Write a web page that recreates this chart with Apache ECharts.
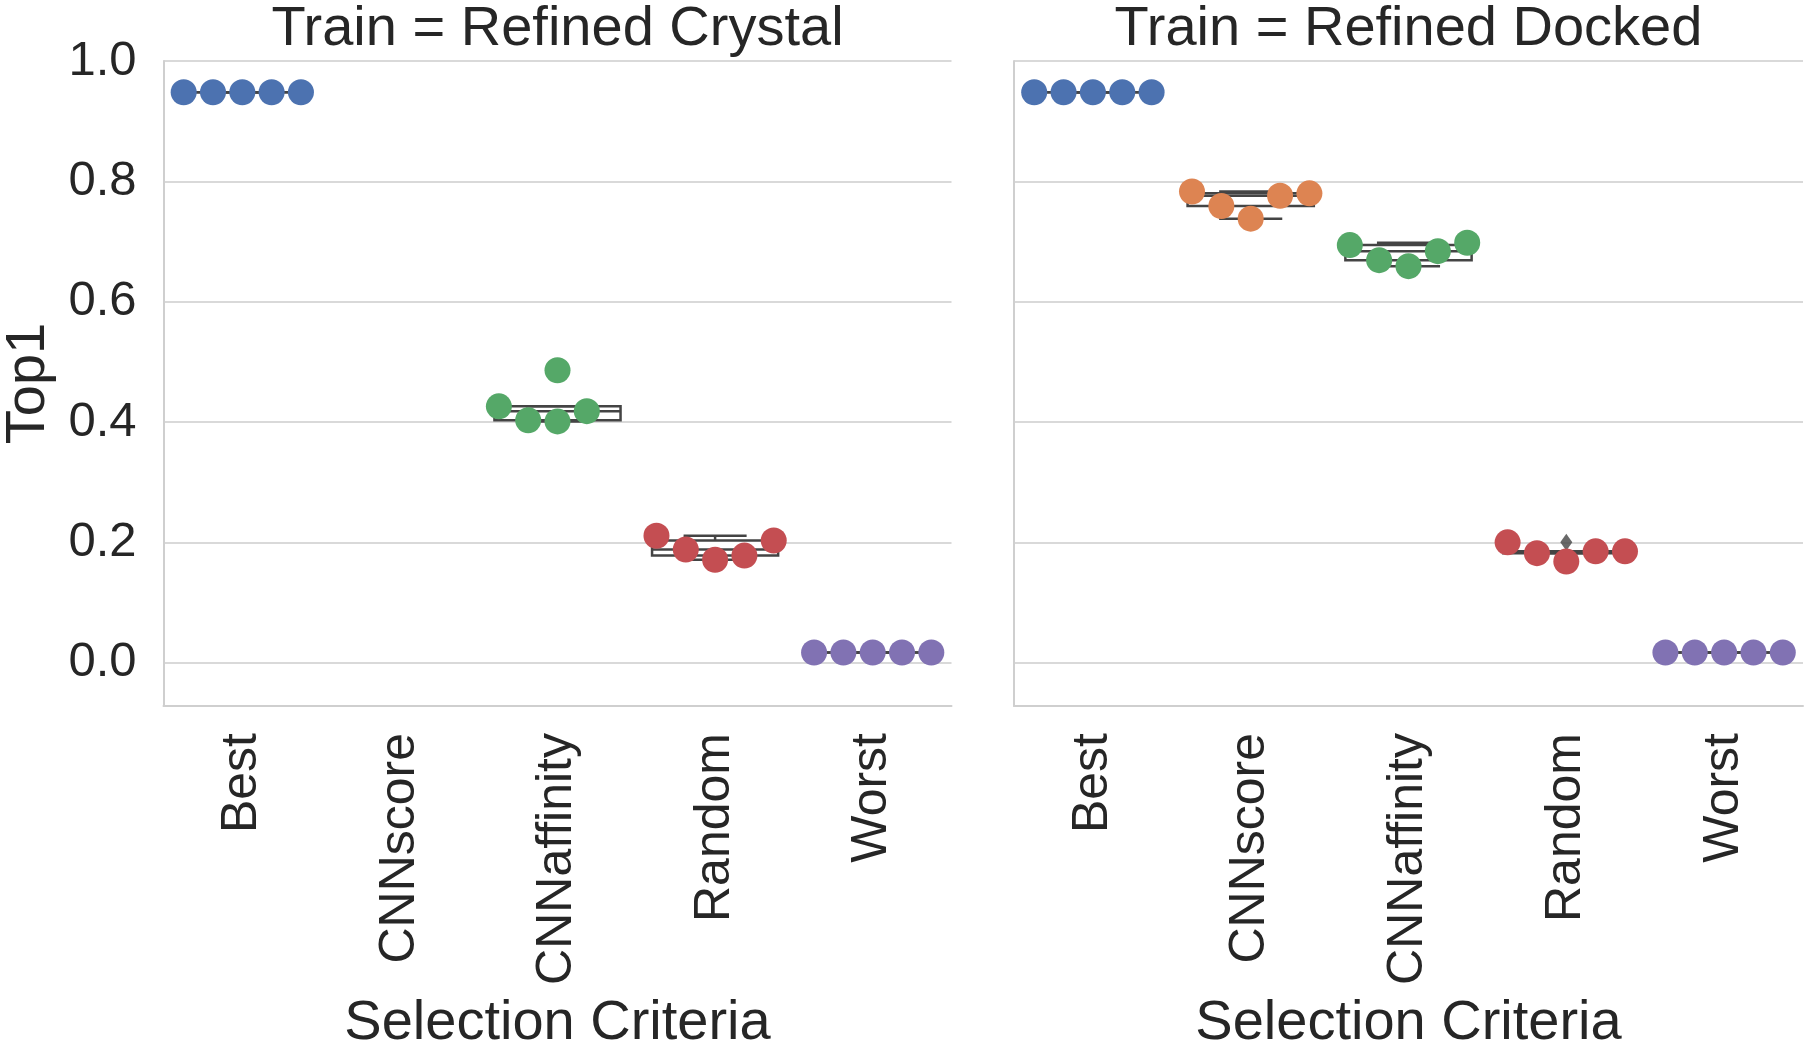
<!DOCTYPE html>
<html>
<head>
<meta charset="utf-8">
<script src="https://cdn.jsdelivr.net/npm/echarts@6/dist/echarts.min.js"></script>
<style>
html, body { margin: 0; padding: 0; background: #fff; }
#chart { width: 1810px; height: 1047px; }
</style>
</head>
<body>
<div id="chart"></div>
<script>
var categories = ['Best', 'CNNscore', 'CNNaffinity', 'Random', 'Worst'];
var panelTitles = ['Train = Refined Crystal', 'Train = Refined Docked'];
var yTicks = [0.0, 0.2, 0.4, 0.6, 0.8, 1.0];
var colors = ['#4c72b0', '#dd8452', '#55a868', '#c44e52', '#8172b3'];

// Top1 per selection criterion, points listed left to right as drawn
var crystalBest = [0.948, 0.948, 0.948, 0.948, 0.948];
var crystalCNNscore = [];
var crystalCNNaffinity = [0.426, 0.403, 0.401, 0.418, 0.486];
var crystalRandom = [0.211, 0.188, 0.171, 0.178, 0.203];
var crystalWorst = [0.017, 0.017, 0.017, 0.017, 0.017];

var dockedBest = [0.948, 0.948, 0.948, 0.948, 0.948];
var dockedCNNscore = [0.783, 0.759, 0.738, 0.776, 0.780];
var dockedCNNaffinity = [0.694, 0.669, 0.659, 0.684, 0.698];
var dockedRandom = [0.200, 0.182, 0.168, 0.185, 0.185];
var dockedWorst = [0.017, 0.017, 0.017, 0.017, 0.017];

// swarm slot of each point, in marker steps from the category centre
var defaultSlots = [-2, -1, 0, 1, 2];
var crystalAffinitySlots = [-2, -1, 0, 1, 0];

var panels = [
	[crystalBest, crystalCNNscore, crystalCNNaffinity, crystalRandom, crystalWorst],
	[dockedBest, dockedCNNscore, dockedCNNaffinity, dockedRandom, dockedWorst]
];
var panelSlots = [
	[defaultSlots, defaultSlots, crystalAffinitySlots, defaultSlots, defaultSlots],
	[defaultSlots, defaultSlots, defaultSlots, defaultSlots, defaultSlots]
];

var font = 'Liberation Sans, Arial, sans-serif';
var textColor = '#262626';
var boxColor = '#444444';
var spineColor = '#cfcfcf';
var gridLeft = [163.5, 1014];
var gridWidth = [788, 789];
var gridTop = 61, gridHeight = 645;
var swarmStep = 0.186;

function quantile(sorted, p) {
	var pos = (sorted.length - 1) * p;
	var lo = Math.floor(pos), hi = Math.ceil(pos);
	return sorted[lo] + (sorted[hi] - sorted[lo]) * (pos - lo);
}

// matplotlib style box stats: whiskers at 1.5 IQR, rest are fliers
function boxStats(vals) {
	var s = vals.slice().sort(function(a, b) { return a - b; });
	var q1 = quantile(s, 0.25), med = quantile(s, 0.5), q3 = quantile(s, 0.75);
	var iqr = q3 - q1;
	var inside = s.filter(function(v) { return v >= q1 - 1.5 * iqr && v <= q3 + 1.5 * iqr; });
	var fliers = s.filter(function(v) { return v < q1 - 1.5 * iqr || v > q3 + 1.5 * iqr; });
	return {
		lo: inside[0],
		hi: inside[inside.length - 1],
		q1: q1,
		med: med,
		q3: q3,
		fliers: fliers
	};
}

function renderBox(params, api) {
	var c = api.value(0), lo = api.value(1), q1 = api.value(2),
		med = api.value(3), q3 = api.value(4), hi = api.value(5);
	var hw = 0.4, cw = 0.2;
	var st = { stroke: boxColor, lineWidth: 2.5, fill: null };
	function line(x1, y1, x2, y2) {
		var s = api.coord([x1, y1]), e = api.coord([x2, y2]);
		return { type: 'line', shape: { x1: s[0], y1: s[1], x2: e[0], y2: e[1] }, style: st };
	}
	var a = api.coord([c - hw, q3]), b = api.coord([c + hw, q1]);
	return {
		type: 'group',
		children: [
			{ type: 'rect', shape: { x: a[0], y: a[1], width: b[0] - a[0], height: b[1] - a[1] },
				style: { fill: '#ffffff', stroke: boxColor, lineWidth: 2.5 } },
			line(c, q1, c, lo),
			line(c, q3, c, hi),
			line(c - cw, lo, c + cw, lo),
			line(c - cw, hi, c + cw, hi),
			line(c - hw, med, c + hw, med)
		]
	};
}

var grids = [], xAxes = [], yAxes = [], series = [], graphics = [];

panels.forEach(function(groups, p) {
	grids.push({
		left: gridLeft[p],
		top: gridTop,
		width: gridWidth[p],
		height: gridHeight,
		containLabel: false,
		outerBoundsMode: 'none'
	});

	xAxes.push({
		gridIndex: p,
		type: 'category',
		data: categories,
		boundaryGap: true,
		axisLine: { show: true, onZero: false, lineStyle: { color: spineColor, width: 2 } },
		axisTick: { show: false },
		axisLabel: { rotate: 90, interval: 0, margin: 27, fontSize: 50, color: textColor, fontFamily: font },
		splitLine: { show: false },
		name: 'Selection Criteria',
		nameLocation: 'middle',
		nameGap: 290,
		nameTextStyle: { fontSize: 56, color: textColor, fontFamily: font }
	});
	xAxes.push({
		gridIndex: p,
		type: 'value',
		min: -0.5,
		max: 4.5,
		show: false,
		axisLine: { onZero: false }
	});

	yAxes.push({
		gridIndex: p,
		type: 'value',
		min: -0.072,
		max: 1.0,
		axisLine: { show: true, onZero: false, lineStyle: { color: spineColor, width: 2 } },
		axisTick: { show: false, customValues: yTicks },
		axisLabel: {
			show: p === 0,
			customValues: yTicks,
			formatter: function(v) { return v.toFixed(1); },
			margin: 27,
			fontSize: 49,
			color: textColor,
			fontFamily: font
		},
		splitLine: { show: true, lineStyle: { color: '#d9d9d9', width: 2 } },
		name: p === 0 ? 'Top1' : '',
		nameLocation: 'middle',
		nameRotate: 90,
		nameGap: 107,
		nameTextStyle: { fontSize: 56, color: textColor, fontFamily: font }
	});

	var boxes = [], fliers = [], points = [];
	groups.forEach(function(vals, ci) {
		if (!vals.length) return;
		var b = boxStats(vals);
		boxes.push([ci, b.lo, b.q1, b.med, b.q3, b.hi]);
		b.fliers.forEach(function(f) { fliers.push([ci, f]); });
		vals.forEach(function(v, k) {
			points.push({
				value: [ci + panelSlots[p][ci][k] * swarmStep, v],
				itemStyle: { color: colors[ci] }
			});
		});
	});

	series.push({
		type: 'custom',
		xAxisIndex: 2 * p + 1,
		yAxisIndex: p,
		renderItem: renderBox,
		encode: { x: 0, y: [1, 2, 3, 4, 5] },
		data: boxes,
		z: 2,
		silent: true
	});
	series.push({
		type: 'scatter',
		xAxisIndex: 2 * p + 1,
		yAxisIndex: p,
		symbol: 'diamond',
		symbolSize: [12, 17],
		itemStyle: { color: boxColor },
		data: fliers,
		z: 3,
		silent: true
	});
	series.push({
		type: 'scatter',
		xAxisIndex: 2 * p + 1,
		yAxisIndex: p,
		symbol: 'circle',
		symbolSize: 26,
		itemStyle: { opacity: 1 },
		data: points,
		z: 4,
		silent: true
	});

	graphics.push({
		type: 'text',
		x: gridLeft[p] + gridWidth[p] / 2,
		y: 30,
		style: {
			text: panelTitles[p],
			fontSize: 56,
			fontFamily: font,
			fill: textColor,
			align: 'center',
			verticalAlign: 'middle'
		}
	});
});

var chart = echarts.init(document.getElementById('chart'));
chart.setOption({
	animation: false,
	backgroundColor: '#ffffff',
	grid: grids,
	xAxis: xAxes,
	yAxis: yAxes,
	series: series,
	graphic: graphics
});
</script>
</body>
</html>
